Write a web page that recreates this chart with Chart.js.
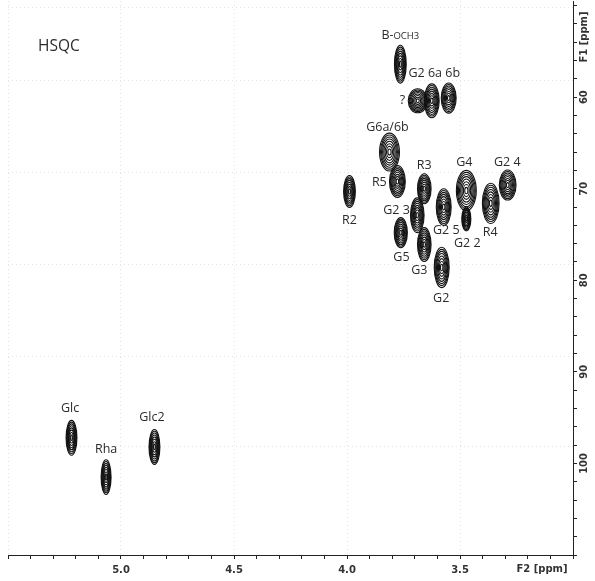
<!DOCTYPE html>
<html>
<head>
<meta charset="utf-8">
<script src="https://cdn.jsdelivr.net/npm/chart.js@4/dist/chart.umd.min.js"></script>
<style>
  html, body { margin: 0; padding: 0; background: #fff; }
  #wrap { width: 595px; height: 581px; }
</style>
</head>
<body>
<div id="wrap"><canvas id="hsqc" width="595" height="581"></canvas></div>
<script>
// Cross peaks: F2 = 1H (ppm), F1 = 13C (ppm), half widths in ppm
const peakNames = ['B-OCH3', '?', 'G2 6a', 'G2 6b', 'G6a/6b', 'R5', 'R2', 'R3', 'G2 3', 'G3', 'G5', 'G2 5', 'G2', 'G4', 'G2 2', 'R4', 'G2 4', 'Glc', 'Rha', 'Glc2'];
const peakF2 = [3.764, 3.687, 3.625, 3.550, 3.812, 3.777, 3.989, 3.658, 3.689, 3.658, 3.762, 3.572, 3.581, 3.472, 3.472, 3.364, 3.289, 5.219, 5.066, 4.852];
const peakF1 = [56.4, 60.4, 60.4, 60.1, 66.0, 69.2, 70.3, 70.0, 72.9, 76.1, 74.8, 72.0, 78.6, 70.2, 73.3, 71.6, 69.6, 97.2, 101.5, 98.2];
const peakWF2 = [0.026, 0.042, 0.033, 0.033, 0.044, 0.035, 0.026, 0.030, 0.030, 0.030, 0.029, 0.033, 0.033, 0.044, 0.020, 0.037, 0.037, 0.024, 0.022, 0.024];
const peakWF1 = [2.07, 1.31, 1.85, 1.64, 2.07, 1.74, 1.75, 1.64, 1.90, 1.85, 1.64, 2.00, 2.20, 2.20, 1.30, 2.20, 1.64, 1.90, 1.90, 1.90];

// Assignment labels
const labelText = ['B-OCH3', 'G2 6a 6b', '?', 'G6a/6b', 'R5', 'R3', 'G4', 'G2 4', 'R2', 'G2 3', 'G2 5', 'R4', 'G2 2', 'G5', 'G3', 'G2', 'Glc', 'Rha', 'Glc2'];
const labelF2 = [3.764, 3.614, 3.755, 3.821, 3.857, 3.658, 3.481, 3.291, 3.989, 3.781, 3.561, 3.366, 3.468, 3.759, 3.680, 3.583, 5.225, 5.066, 4.863];
const labelF1 = [53.3, 57.4, 60.4, 63.3, 69.3, 67.45, 67.1, 67.1, 73.45, 72.36, 74.54, 74.75, 75.95, 77.48, 78.9, 81.96, 93.95, 98.42, 94.93];

// Axis ticks
const f2Labels = [5.0, 4.5, 4.0, 3.5];
const f1Labels = [60, 70, 80, 90, 100];
const gridF1 = [50.2, 58.2, 68.2, 78.3, 88.3, 98.2];

const levels = [1, 0.9, 0.8, 0.69, 0.57, 0.44, 0.3, 0.16];
const tickFont = { family: 'DejaVu Sans', size: 10, weight: 'bold' };
const labelFont = '12.5px "Open Sans"';
const gridColor = '#e4e4e4';

const near = (a, b) => Math.abs(a - b) < 1e-6;
const isMajorF2 = v => near(v * 2, Math.round(v * 2));

const contourPlugin = {
  id: 'contours',
  afterDatasetsDraw(chart) {
    const { ctx, chartArea, scales: { x, y } } = chart;
    ctx.save();
    ctx.beginPath();
    ctx.rect(chartArea.left, chartArea.top, chartArea.width, chartArea.height);
    ctx.clip();

    // contour rings for every cross peak
    ctx.strokeStyle = '#111';
    ctx.lineWidth = 1.1;
    peakF2.forEach((f2, i) => {
      const cx = x.getPixelForValue(f2);
      const cy = y.getPixelForValue(peakF1[i]);
      const rx = Math.abs(x.getPixelForValue(f2 + peakWF2[i]) - cx);
      const ry = Math.abs(y.getPixelForValue(peakF1[i] + peakWF1[i]) - cy);
      levels.forEach(k => {
        ctx.beginPath();
        ctx.ellipse(cx, cy, rx * k, ry * k, 0, 0, Math.PI * 2);
        ctx.stroke();
      });
    });

    // assignment labels
    ctx.fillStyle = '#2b2b2b';
    ctx.textBaseline = 'middle';
    labelText.forEach((t, i) => {
      const px = x.getPixelForValue(labelF2[i]);
      const py = y.getPixelForValue(labelF1[i]);
      if (t.startsWith('B-')) {
        // methoxy label: small capitals after the dash
        ctx.font = labelFont;
        const w1 = ctx.measureText('B-').width;
        ctx.font = '9.5px "Open Sans"';
        const w2 = ctx.measureText('OCH3').width;
        const sx = px - (w1 + w2) / 2;
        ctx.textAlign = 'left';
        ctx.font = labelFont;
        ctx.fillText('B-', sx, py);
        ctx.font = '9.5px "Open Sans"';
        ctx.fillText('OCH3', sx + w1, py + 1);
      } else {
        ctx.font = labelFont;
        ctx.textAlign = 'center';
        ctx.fillText(t, px, py);
      }
    });

    ctx.font = '15.5px "Open Sans"';
    ctx.textAlign = 'left';
    ctx.fillText('HSQC', chartArea.left + 30, chartArea.top + 46);
    ctx.restore();
  },
  afterDraw(chart) {
    const { ctx, chartArea } = chart;
    ctx.save();
    ctx.fillStyle = '#333';
    ctx.font = 'bold 10px "DejaVu Sans"';
    ctx.textAlign = 'center';
    ctx.textBaseline = 'middle';
    ctx.fillText('F2 [ppm]', 542, chartArea.bottom + 14);
    ctx.translate(chartArea.right + 11, chartArea.top + 36);
    ctx.rotate(-Math.PI / 2);
    ctx.fillText('F1 [ppm]', 0, 0);
    ctx.restore();
  }
};

new Chart(document.getElementById('hsqc'), {
  type: 'scatter',
  data: {
    datasets: [{
      label: 'cross peaks',
      data: peakF2.map((f2, i) => ({ x: f2, y: peakF1[i] })),
      pointRadius: 0
    }]
  },
  options: {
    responsive: false,
    animation: false,
    layout: { padding: { left: 8, top: 1, right: 0, bottom: 0 } },
    plugins: { legend: { display: false }, tooltip: { enabled: false } },
    scales: {
      x: {
        position: 'bottom',
        reverse: true,
        min: 3.0,
        max: 5.5,
        ticks: {
          stepSize: 0.1,
          autoSkip: false,
          maxTicksLimit: 100,
          maxRotation: 0,
          padding: 5,
          color: '#333',
          font: tickFont,
          callback: v => f2Labels.some(t => near(t, v)) ? v.toFixed(1) : ''
        },
        grid: {
          color: c => c.tick && isMajorF2(c.tick.value) ? gridColor : 'rgba(0,0,0,0)',
          tickColor: '#222',
          tickLength: 4
        },
        border: { display: true, color: '#222', width: 1, dash: [1, 3] },
        afterFit: s => { s.height = 26; s.paddingLeft = 0; s.paddingRight = 0; }
      },
      y: {
        position: 'right',
        reverse: true,
        min: 49.5,
        max: 110,
        ticks: {
          stepSize: 2,
          includeBounds: false,
          autoSkip: false,
          maxTicksLimit: 100,
          minRotation: 90,
          maxRotation: 90,
          crossAlign: 'center',
          padding: -3,
          color: '#333',
          font: tickFont,
          callback: v => f1Labels.some(t => near(t, v)) ? String(Math.round(v)) : ''
        },
        grid: { color: 'rgba(0,0,0,0)', tickColor: '#222', tickLength: 4 },
        border: { display: true, color: '#222', width: 1 },
        afterFit: s => { s.width = 22; s.paddingTop = 0; s.paddingBottom = 0; }
      },
      yGrid: {
        position: 'left',
        reverse: true,
        min: 49.5,
        max: 110,
        afterBuildTicks: s => { s.ticks = gridF1.map(v => ({ value: v })); },
        ticks: { display: false },
        grid: { color: gridColor, drawTicks: false },
        border: { display: false, dash: [1, 3] },
        afterFit: s => { s.width = 0; s.paddingTop = 0; s.paddingBottom = 0; }
      }
    }
  },
  plugins: [contourPlugin]
});
</script>
</body>
</html>
